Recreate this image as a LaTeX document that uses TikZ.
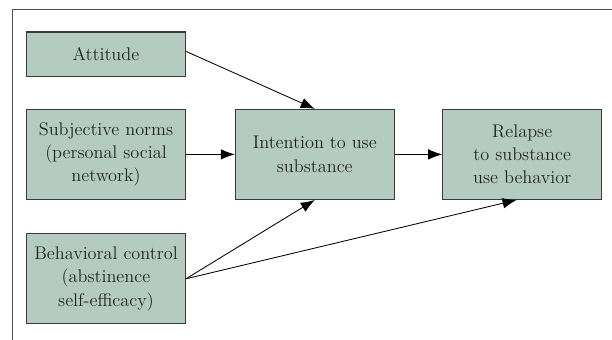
\documentclass[tikz,border=0pt]{standalone}
\usepackage{tikz}
\usetikzlibrary{arrows.meta,positioning}
\definecolor{boxfill}{RGB}{180,203,194}
\definecolor{boxline}{RGB}{58,58,58}
\definecolor{txt}{RGB}{35,35,35}
\tikzset{
  factor/.style={draw=boxline,fill=boxfill,line width=0.8pt,minimum width=3.97cm,
    minimum height=2.25cm,align=center,text=txt,inner sep=2pt,
    font=\fontsize{13}{16.6}\selectfont},
  link/.style={->,line width=0.6pt,draw=black}
}
\begin{document}
\begin{tikzpicture}[>={Latex[length=10pt,width=7.5pt]}]
      \useasboundingbox (0,0) rectangle (15.3,8.5);
      \draw[line width=1pt,draw=boxline!90] (15.3,8.26) -- (0.31,8.26) -- (0.31,0);
      \node[factor,minimum height=1.11cm] (att) at (2.65,7.145) {Attitude};
      \node[factor] (norm) at (2.65,4.64) {Subjective norms\\(personal social\\network)};
      \node[factor] (ctrl) at (2.65,1.53) {Behavioral control\\(abstinence\\self-efficacy)};
      \node[factor] (int) at (7.87,4.64) {Intention to use\\substance};
      \node[factor] (rel) at (13.055,4.64) {Relapse\\to substance\\use behavior};
      \draw[link] ([yshift=2pt]att.east) -- (int.north);
      \draw[link] (norm) -- (int);
      \draw[link] (int) -- (rel);
      \draw[link] (ctrl.east) -- (int.south);
      \draw[link] (ctrl.east) -- ([xshift=-4pt]rel.south);
\end{tikzpicture}
\end{document}
